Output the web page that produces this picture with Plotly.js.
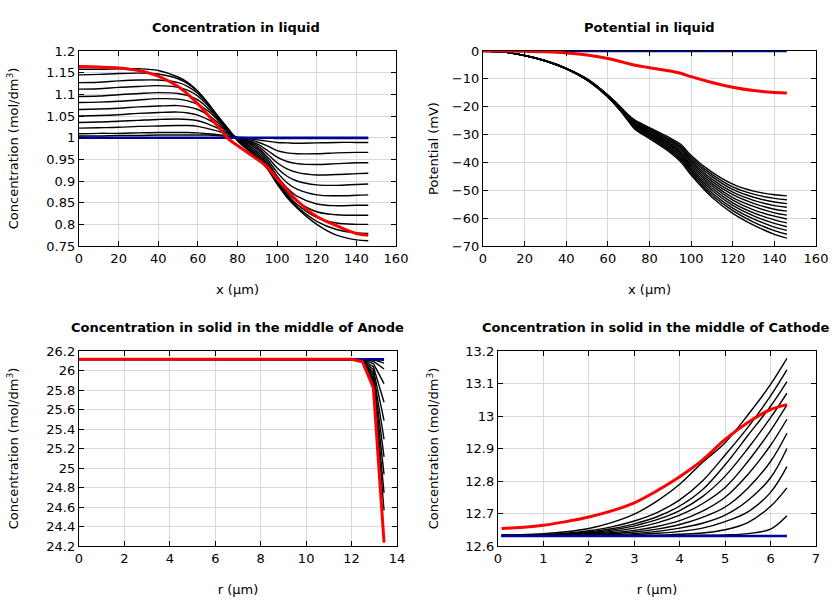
<!DOCTYPE html>
<html>
<head>
<meta charset="utf-8">
<script src="https://cdn.plot.ly/plotly-3.0.1.min.js"></script>
<style>html,body{margin:0;padding:0;background:#fff}#plot{width:840px;height:600px}</style>
</head>
<body>
<div id="plot"></div>
<script>
// ---------- Concentration in liquid ----------
var xLiq = [0,10,20,30,40,50,55,60,65,70,75,80,85,90,95,100,105,110,120,130,140,146];
var cLiqBlack = [
 [1.004,1.004,1.005,1.005,1.006,1.006,1.006,1.006,1.006,1.005,1.003,1.001,1.000,0.999,0.999,0.998,0.998,0.998,0.998,0.998,0.998,0.998],
 [1.009,1.010,1.010,1.011,1.012,1.012,1.012,1.011,1.009,1.007,1.004,1.000,0.998,0.995,0.992,0.989,0.988,0.987,0.988,0.989,0.989,0.989],
 [1.022,1.023,1.024,1.026,1.027,1.028,1.028,1.026,1.021,1.015,1.008,1.000,0.996,0.990,0.981,0.970,0.965,0.963,0.963,0.965,0.966,0.966],
 [1.035,1.036,1.038,1.040,1.042,1.043,1.042,1.039,1.032,1.022,1.011,1.000,0.994,0.985,0.971,0.955,0.945,0.940,0.938,0.940,0.942,0.942],
 [1.050,1.051,1.053,1.056,1.058,1.059,1.057,1.052,1.042,1.029,1.014,0.999,0.992,0.981,0.963,0.942,0.928,0.920,0.914,0.915,0.917,0.918],
 [1.065,1.066,1.068,1.071,1.073,1.074,1.071,1.065,1.053,1.035,1.016,0.999,0.990,0.977,0.956,0.930,0.911,0.900,0.891,0.890,0.892,0.893],
 [1.081,1.082,1.084,1.087,1.090,1.089,1.085,1.077,1.062,1.041,1.018,0.998,0.987,0.973,0.950,0.920,0.896,0.881,0.868,0.866,0.867,0.868],
 [1.095,1.096,1.099,1.102,1.104,1.102,1.097,1.087,1.068,1.045,1.019,0.997,0.984,0.968,0.945,0.911,0.884,0.865,0.847,0.843,0.844,0.844],
 [1.112,1.113,1.116,1.118,1.120,1.116,1.109,1.096,1.074,1.047,1.020,0.996,0.981,0.964,0.940,0.905,0.874,0.853,0.829,0.822,0.821,0.821],
 [1.127,1.128,1.131,1.133,1.133,1.127,1.118,1.102,1.078,1.049,1.021,0.995,0.978,0.960,0.936,0.900,0.869,0.846,0.816,0.803,0.800,0.800],
 [1.145,1.146,1.148,1.149,1.147,1.136,1.124,1.106,1.080,1.050,1.022,0.994,0.975,0.956,0.932,0.896,0.865,0.841,0.807,0.788,0.780,0.779],
 [1.158,1.158,1.159,1.159,1.155,1.140,1.127,1.107,1.080,1.050,1.022,0.993,0.972,0.953,0.928,0.893,0.862,0.838,0.800,0.775,0.764,0.762]
];
var cLiqBlue = [1,1,1,1,1,1,1,1,1,1,1,1,1,1,1,1,1,1,1,1,1,1];
var cLiqRed = [1.164,1.163,1.161,1.155,1.142,1.118,1.100,1.078,1.053,1.027,0.999,0.982,0.966,0.950,0.932,0.905,0.880,0.855,0.818,0.797,0.779,0.775];

// ---------- Potential in liquid ----------
var xPot = [0,10,20,30,40,50,60,65,70,73,80,90,95,100,110,120,130,140,146];
var potBlack = [
 [0,-0.4,-1.6,-3.5,-6.2,-10.0,-15.8,-19.3,-23.0,-24.8,-27.5,-31.3,-33.5,-37.5,-43.5,-47.8,-50.3,-51.6,-52.0],
 [0,-0.4,-1.6,-3.5,-6.2,-10.0,-15.9,-19.4,-23.2,-25.1,-27.9,-31.8,-34.1,-38.1,-44.3,-48.8,-51.4,-52.9,-53.4],
 [0,-0.4,-1.6,-3.5,-6.2,-10.1,-15.9,-19.5,-23.4,-25.4,-28.2,-32.2,-34.6,-38.8,-45.1,-49.7,-52.5,-54.2,-54.8],
 [0,-0.4,-1.6,-3.5,-6.3,-10.1,-16.0,-19.7,-23.6,-25.7,-28.6,-32.7,-35.2,-39.4,-46.0,-50.7,-53.6,-55.5,-56.1],
 [0,-0.4,-1.6,-3.5,-6.3,-10.2,-16.1,-19.8,-23.8,-26.0,-29.0,-33.2,-35.8,-40.0,-46.8,-51.6,-54.7,-56.8,-57.5],
 [0,-0.4,-1.6,-3.5,-6.3,-10.2,-16.2,-19.9,-24.0,-26.3,-29.3,-33.7,-36.4,-40.7,-47.6,-52.6,-55.8,-58.1,-58.9],
 [0,-0.4,-1.6,-3.5,-6.3,-10.3,-16.2,-20.0,-24.3,-26.6,-29.7,-34.1,-36.9,-41.3,-48.4,-53.5,-57.0,-59.3,-60.3],
 [0,-0.4,-1.6,-3.6,-6.3,-10.3,-16.3,-20.1,-24.5,-26.9,-30.0,-34.6,-37.5,-42.0,-49.2,-54.5,-58.1,-60.6,-61.7],
 [0,-0.4,-1.6,-3.6,-6.3,-10.4,-16.4,-20.2,-24.7,-27.2,-30.4,-35.1,-38.1,-42.6,-50.0,-55.4,-59.2,-61.9,-63.1],
 [0,-0.4,-1.6,-3.6,-6.4,-10.4,-16.5,-20.4,-24.9,-27.5,-30.8,-35.6,-38.7,-43.2,-50.9,-56.4,-60.3,-63.2,-64.4],
 [0,-0.4,-1.6,-3.6,-6.4,-10.5,-16.5,-20.5,-25.1,-27.8,-31.1,-36.0,-39.2,-43.9,-51.7,-57.3,-61.4,-64.5,-65.8],
 [0,-0.4,-1.6,-3.6,-6.4,-10.5,-16.6,-20.6,-25.3,-28.1,-31.5,-36.5,-39.8,-44.5,-52.5,-58.3,-62.5,-65.8,-67.2]
];
var potBlue = [0,0,0,0,0,0,0,0,0,0,0,0,0,0,0,0,0,0,0];
var potRed = [0,0,-0.1,-0.3,-0.7,-1.4,-2.7,-3.6,-4.6,-5.1,-6.0,-7.2,-8.0,-9.2,-11.3,-13.0,-14.2,-14.9,-15.1];

// ---------- Solid concentration, anode ----------
var rAn = [0,2,4,6,8,10,12.0,12.48,12.96,13.43];
var anBlack = [
 [26.115,26.115,26.115,26.115,26.115,26.115,26.115,26.115,26.115,26.113],
 [26.115,26.115,26.115,26.115,26.115,26.115,26.115,26.115,26.114,26.105],
 [26.115,26.115,26.115,26.115,26.115,26.115,26.115,26.115,26.111,26.075],
 [26.115,26.115,26.115,26.115,26.115,26.115,26.115,26.114,26.095,26.015],
 [26.115,26.115,26.115,26.115,26.115,26.115,26.115,26.112,26.070,25.865],
 [26.115,26.115,26.115,26.115,26.115,26.115,26.115,26.109,26.040,25.675],
 [26.115,26.115,26.115,26.115,26.115,26.115,26.115,26.106,26.010,25.485],
 [26.115,26.115,26.115,26.115,26.115,26.115,26.115,26.103,25.980,25.295],
 [26.115,26.115,26.115,26.115,26.115,26.115,26.115,26.100,25.950,25.115],
 [26.115,26.115,26.115,26.115,26.115,26.115,26.115,26.097,25.920,24.935],
 [26.115,26.115,26.115,26.115,26.115,26.115,26.115,26.094,25.890,24.745],
 [26.115,26.115,26.115,26.115,26.115,26.115,26.115,26.092,25.860,24.565]
];
var anBlue = [26.115,26.115,26.115,26.115,26.115,26.115,26.115,26.115,26.115,26.115];
var anRed = [26.115,26.115,26.115,26.115,26.115,26.115,26.115,26.090,25.820,24.235];

// ---------- Solid concentration, cathode ----------
var rCa = [0.08,0.5,1,1.5,2,2.5,3,3.5,4,4.5,5,5.5,6,6.36];
var caBlack = [
 [12.631,12.631,12.631,12.631,12.631,12.631,12.631,12.631,12.631,12.631,12.631,12.631,12.631,12.632],
 [12.631,12.631,12.631,12.631,12.631,12.631,12.631,12.631,12.632,12.633,12.634,12.638,12.652,12.693],
 [12.631,12.631,12.631,12.631,12.631,12.632,12.632,12.633,12.636,12.640,12.650,12.672,12.722,12.779],
 [12.631,12.631,12.631,12.632,12.632,12.633,12.635,12.639,12.645,12.655,12.675,12.705,12.765,12.844],
 [12.631,12.631,12.632,12.632,12.633,12.635,12.638,12.645,12.655,12.670,12.695,12.740,12.810,12.900],
 [12.632,12.632,12.632,12.633,12.635,12.638,12.643,12.652,12.666,12.688,12.720,12.778,12.860,12.947],
 [12.632,12.632,12.632,12.634,12.637,12.641,12.648,12.660,12.678,12.707,12.750,12.820,12.910,12.990],
 [12.632,12.632,12.633,12.635,12.639,12.645,12.655,12.671,12.695,12.730,12.780,12.860,12.955,13.034],
 [12.632,12.632,12.633,12.636,12.641,12.649,12.662,12.681,12.709,12.752,12.815,12.900,12.995,13.070],
 [12.633,12.633,12.634,12.637,12.643,12.653,12.668,12.690,12.723,12.773,12.850,12.940,13.030,13.106],
 [12.633,12.633,12.635,12.639,12.647,12.659,12.677,12.703,12.742,12.800,12.880,12.965,13.062,13.142],
 [12.634,12.635,12.638,12.644,12.654,12.672,12.698,12.738,12.790,12.857,12.918,13.003,13.097,13.177]
];
var caBlue = [12.631,12.631,12.631,12.631,12.631,12.631,12.631,12.631,12.631,12.631,12.631,12.631,12.631,12.631];
var caRed = [12.654,12.657,12.664,12.675,12.689,12.708,12.733,12.770,12.813,12.864,12.928,12.980,13.020,13.035];

// ---------- build traces ----------
var traces = [];
function addPanel(x, blacks, blue, red, xa, ya, shape) {
  blacks.forEach(function (y) {
    traces.push({x: x, y: y, xaxis: xa, yaxis: ya, type: 'scatter', mode: 'lines',
      line: {color: '#000000', width: 1.4, shape: shape, smoothing: 1}, hoverinfo: 'skip'});
  });
  traces.push({x: x, y: blue, xaxis: xa, yaxis: ya, type: 'scatter', mode: 'lines',
    line: {color: '#0000a0', width: 2.5}, hoverinfo: 'skip'});
  traces.push({x: x, y: red, xaxis: xa, yaxis: ya, type: 'scatter', mode: 'lines',
    line: {color: '#ff0000', width: 3, shape: shape, smoothing: 1}, hoverinfo: 'skip'});
}
addPanel(xLiq, cLiqBlack, cLiqBlue, cLiqRed, 'x', 'y', 'spline');
addPanel(xPot, potBlack, potBlue, potRed, 'x2', 'y2', 'spline');
addPanel(rAn, anBlack, anBlue, anRed, 'x3', 'y3', 'linear');
addPanel(rCa, caBlack, caBlue, caRed, 'x4', 'y4', 'spline');

var F = {family: 'DejaVu Sans', size: 13, color: '#000'};
function ax(extra) {
  var a = {showline: true, linecolor: '#000', linewidth: 1.2, mirror: 'allticks', ticks: 'inside',
    ticklen: 5, tickcolor: '#000', showgrid: true, gridcolor: '#d9d9d9', gridwidth: 1,
    zeroline: false, tickfont: F, automargin: false, fixedrange: true};
  for (var k in extra) a[k] = extra[k];
  return a;
}
var xt = function (t) { return {text: t, font: F, standoff: 20}; };
var yt = function (t, s) { return {text: t, font: F, standoff: s}; };

var layout = {
  width: 840, height: 600, showlegend: false,
  paper_bgcolor: '#fff', plot_bgcolor: '#fff',
  margin: {l: 0, r: 0, t: 0, b: 0},
  font: F,
  xaxis:  ax({domain: [79/840, 396/840], range: [0, 160], dtick: 20, anchor: 'y', title: xt('x (µm)')}),
  yaxis:  ax({domain: [1-246/600, 1-51/600], range: [0.75, 1.2], dtick: 0.05, anchor: 'x', title: yt('Concentration (mol/dm<sup>3</sup>)', 24)}),
  xaxis2: ax({domain: [483/840, 816/840], range: [0, 160], dtick: 20, anchor: 'y2', title: xt('x (µm)')}),
  yaxis2: ax({domain: [1-246/600, 1-51/600], range: [-70, 0], dtick: 10, anchor: 'x2', title: yt('Potential (mV)', 10)}),
  xaxis3: ax({domain: [79/840, 397/840], range: [0, 14], dtick: 2, anchor: 'y3', title: xt('r (µm)')}),
  yaxis3: ax({domain: [1-546/600, 1-351/600], range: [24.2, 26.2], dtick: 0.2, anchor: 'x3', title: yt('Concentration (mol/dm<sup>3</sup>)', 24)}),
  xaxis4: ax({domain: [498/840, 816/840], range: [0, 7], dtick: 1, anchor: 'y4', title: xt('r (µm)')}),
  yaxis4: ax({domain: [1-546/600, 1-351/600], range: [12.6, 13.2], dtick: 0.1, anchor: 'x4', title: yt('Concentration (mol/dm<sup>3</sup>)', 23)}),
  annotations: [
    {text: '<b>Concentration in liquid</b>', x: 236/840, y: 1-27/600, xref: 'paper', yref: 'paper', showarrow: false, font: F, xanchor: 'center', yanchor: 'middle'},
    {text: '<b>Potential in liquid</b>', x: 649/840, y: 1-27/600, xref: 'paper', yref: 'paper', showarrow: false, font: F, xanchor: 'center', yanchor: 'middle'},
    {text: '<b>Concentration in solid in the middle of Anode</b>', x: 237/840, y: 1-327/600, xref: 'paper', yref: 'paper', showarrow: false, font: F, xanchor: 'center', yanchor: 'middle'},
    {text: '<b>Concentration in solid in the middle of Cathode</b>', x: 656/840, y: 1-327/600, xref: 'paper', yref: 'paper', showarrow: false, font: F, xanchor: 'center', yanchor: 'middle'}
  ]
};
Plotly.newPlot('plot', traces, layout, {staticPlot: true, displayModeBar: false});
</script>
</body>
</html>
